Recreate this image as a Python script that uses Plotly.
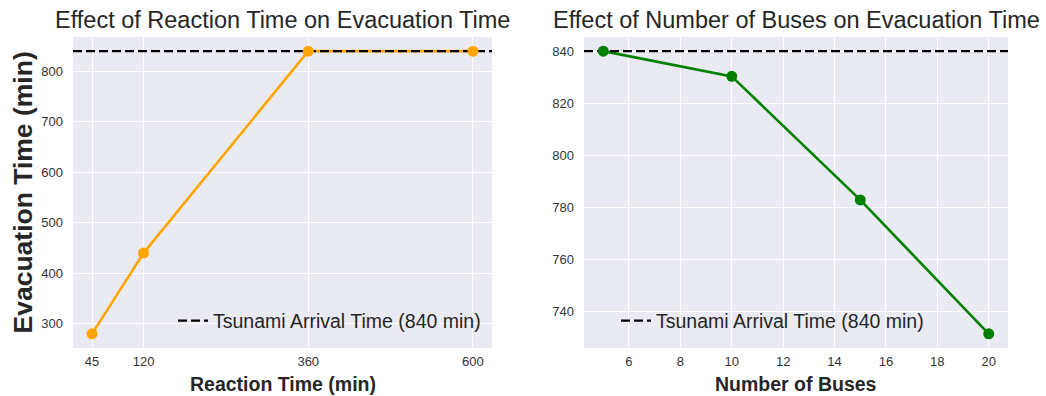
import plotly.graph_objects as go
from plotly.subplots import make_subplots

# Data
reaction_times = [45, 120, 360, 600]
evac_by_reaction = [280, 440, 840, 840]
num_buses = [5, 10, 15, 20]
evac_by_buses = [840, 830.3, 782.8, 731.3]
tsunami_arrival = 840
reaction_ticks = [45, 120, 360, 600]
bus_ticks = [6, 8, 10, 12, 14, 16, 18, 20]
left_yticks = [300, 400, 500, 600, 700, 800]
right_yticks = [740, 760, 780, 800, 820, 840]
legend_label = "Tsunami Arrival Time (840 min)"

BG = "#EAEAF2"
FONT = "Liberation Sans, Arial, sans-serif"
TXT = "#262626"
W, H = 1046, 396


def pad(lo, hi, f=0.05):
    d = (hi - lo) * f
    return [lo - d, hi + d]


fig = make_subplots(rows=1, cols=2)

panels = [
    (reaction_times, evac_by_reaction, "#FFA500", 1, "legend"),
    (num_buses, evac_by_buses, "#008000", 2, "legend2"),
]
for xs, ys, color, col, leg in panels:
    fig.add_trace(go.Scatter(x=xs, y=ys, mode="lines",
                             line=dict(color=color, width=2.6),
                             showlegend=False, hoverinfo="skip"), row=1, col=col)
    xr = pad(min(xs), max(xs))
    fig.add_trace(go.Scatter(x=xr, y=[tsunami_arrival, tsunami_arrival], mode="lines",
                             name=legend_label,
                             line=dict(color="black", width=2.2, dash="9px,4px"),
                             legend=leg, showlegend=True), row=1, col=col)
    fig.add_trace(go.Scatter(x=xs, y=ys, mode="markers",
                             marker=dict(color=color, size=11),
                             showlegend=False), row=1, col=col)

ydom = [1 - 348 / H, 1 - 37 / H]
axis_common = dict(showgrid=True, gridcolor="white", gridwidth=1, zeroline=False,
                   showline=False, ticks="", automargin=False,
                   tickfont=dict(size=13, color="#333333", family=FONT))

fig.update_xaxes(**axis_common, ticklabelstandoff=4)
fig.update_yaxes(**axis_common, ticklabelstandoff=9)

lx0, lx1 = 73 / W, 492 / W
rx0, rx1 = 584 / W, 1008 / W

fig.update_layout(
    xaxis=dict(domain=[lx0, lx1], range=pad(min(reaction_times), max(reaction_times)),
               tickvals=reaction_ticks),
    yaxis=dict(domain=ydom, range=pad(min(evac_by_reaction), max(evac_by_reaction)),
               tickvals=left_yticks),
    xaxis2=dict(domain=[rx0, rx1], range=pad(min(num_buses), max(num_buses)),
                tickvals=bus_ticks),
    yaxis2=dict(domain=ydom, range=pad(min(evac_by_buses), max(evac_by_buses)),
                tickvals=right_yticks),
    plot_bgcolor=BG,
    paper_bgcolor="white",
    width=W, height=H,
    margin=dict(l=0, r=0, t=0, b=0),
    font=dict(family=FONT, color=TXT),
    legend=dict(x=173 / W, y=1 - 321 / H, xanchor="left", yanchor="middle",
                bgcolor="rgba(0,0,0,0)", font=dict(size=19.5, color=TXT, family=FONT)),
    legend2=dict(x=616 / W, y=1 - 321 / H, xanchor="left", yanchor="middle",
                 bgcolor="rgba(0,0,0,0)", font=dict(size=19.5, color=TXT, family=FONT)),
    annotations=[
        dict(text="Effect of Reaction Time on Evacuation Time", x=(lx0 + lx1) / 2, y=1 - 20 / H,
             xref="paper", yref="paper", showarrow=False, xanchor="center", yanchor="middle",
             font=dict(size=23.5, color=TXT, family=FONT)),
        dict(text="Effect of Number of Buses on Evacuation Time", x=(rx0 + rx1) / 2, y=1 - 20 / H,
             xref="paper", yref="paper", showarrow=False, xanchor="center", yanchor="middle",
             font=dict(size=23.5, color=TXT, family=FONT)),
        dict(text="<b>Reaction Time (min)</b>", x=(lx0 + lx1) / 2, y=1 - 384 / H,
             xref="paper", yref="paper", showarrow=False, xanchor="center", yanchor="middle",
             font=dict(size=19.5, color=TXT, family=FONT)),
        dict(text="<b>Number of Buses</b>", x=(rx0 + rx1) / 2, y=1 - 384 / H,
             xref="paper", yref="paper", showarrow=False, xanchor="center", yanchor="middle",
             font=dict(size=19.5, color=TXT, family=FONT)),
        dict(text="<b>Evacuation Time (min)</b>", x=22 / W, y=(ydom[0] + ydom[1]) / 2,
             xref="paper", yref="paper", showarrow=False, xanchor="center", yanchor="middle",
             textangle=-90, font=dict(size=26.5, color=TXT, family=FONT)),
    ],
)

fig.write_html("out.html", config={"displayModeBar": False},
               post_script="document.body.style.margin='0';document.body.style.padding='0';")
